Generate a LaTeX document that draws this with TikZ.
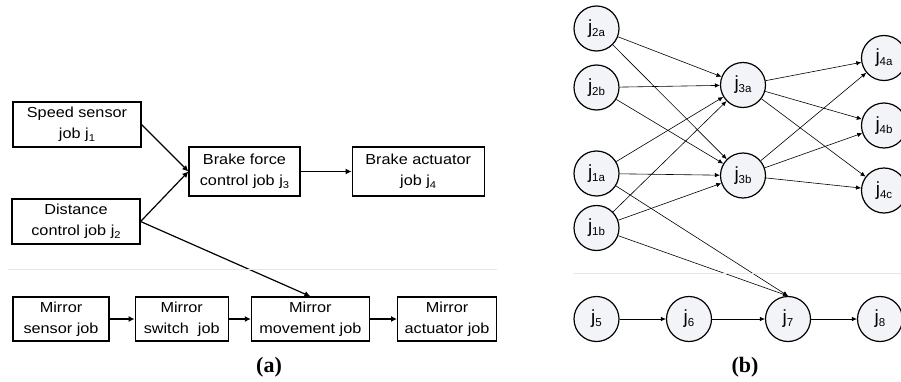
\documentclass[tikz,border=0pt]{standalone}
\usepackage{fontspec}
\usepackage{tikz}
\usetikzlibrary{arrows.meta, positioning, calc}

\newfontfamily\boxfont[FakeStretch=1.12]{Liberation Sans}
\newfontfamily\circfont{Liberation Sans}
\newfontfamily\capfont{Liberation Serif}
\definecolor{nodefill}{HTML}{F2F4F8}
\newcommand{\jsub}[1]{\raisebox{-2.5pt}{\fontsize{10}{10}\selectfont #1}}
\newcommand{\jlab}[1]{{\fontsize{19}{19}\selectfont j}\raisebox{-3pt}{\fontsize{11.5}{11.5}\selectfont #1}}

\begin{document}
\begin{tikzpicture}[
  x=1pt, y=1pt,
  job/.style   = {draw, line width=1.2pt, align=center, inner sep=0pt, minimum height=45pt,
                  font=\boxfont\fontsize{14.5}{21}\selectfont},
  circ/.style  = {draw, circle, line width=1.2pt, minimum size=45pt, inner sep=0pt,
                  fill=nodefill, font=\circfont},
  arrow/.style = {line width=1.2pt, -{Latex[length=6pt, width=6pt]}},
  thinarrow/.style = {line width=0.6pt, -{Latex[length=5pt, width=4.5pt]}},
  divider/.style = {draw=black!10, line width=0.8pt},
  node distance=25pt
]
  \useasboundingbox (0,0) rectangle (901,381);

  % (a) brake jobs
  \node[job, minimum width=128pt] (speed) at (77,256.5) {Speed sensor\\job j\jsub{1}};
  \node[job, minimum width=128pt] (dist) at (76,159.5) {Distance\\control job j\jsub{2}};
  \node[job, minimum width=111pt, minimum height=49pt] (bforce) at (244.5,209.5) {Brake force\\control job j\jsub{3}};
  \node[job, minimum width=132pt, minimum height=49pt, right=51pt of bforce] (bact) {Brake actuator\\job j\jsub{4}};

  % (a) mirror jobs
  \node[job, minimum width=96pt, minimum height=44pt] (msens) at (61,62) {Mirror\\sensor job};
  \node[job, minimum width=93pt, minimum height=44pt, right=25pt of msens] (mswitch) {Mirror\\switch~ job};
  \node[job, minimum width=118pt, minimum height=44pt, right=22pt of mswitch] (mmove) {Mirror\\movement job};
  \node[job, minimum width=99pt, minimum height=44pt, right=27pt of mmove] (mact) {Mirror\\actuator job};

  \draw[arrow] (speed.east) -- (bforce.west);
  \draw[arrow] (dist.east) -- (bforce.west);
  \draw[arrow] (bforce) -- (bact);
  \draw[arrow] (dist.east) -- (mmove.north);
  \draw[arrow] (msens) -- (mswitch);
  \draw[arrow] (mswitch) -- (mmove);
  \draw[arrow] (mmove) -- (mact);

  \draw[divider] (8,112) -- (497,112);
  \node[font=\capfont\bfseries\fontsize{22}{22}\selectfont] (capa) at (269,14) {(a)};

  % (b) job graph
  \node[circ] (j2a) at (596.5,352.5) {\jlab{2a}};
  \node[circ] (j2b) at (596.5,293.5) {\jlab{2b}};
  \node[circ] (j1a) at (596.5,207.5) {\jlab{1a}};
  \node[circ] (j1b) at (596.5,153) {\jlab{1b}};
  \node[circ] (j3a) at (743,296) {\jlab{3a}};
  \node[circ] (j3b) at (743,205.5) {\jlab{3b}};
  \node[circ] (j4a) at (884,323) {\jlab{4a}};
  \node[circ] (j4b) at (884,255.5) {\jlab{4b}};
  \node[circ] (j4c) at (884,190.5) {\jlab{4c}};

  \node[circ] (j5) at (596.5,62) {\jlab{5}};
  \node[circ] (j6) at (689,62) {\jlab{6}};
  \node[circ] (j7) at (788,62) {\jlab{7}};
  \node[circ] (j8) at (880,62) {\jlab{8}};

  \foreach \src in {j2a,j2b,j1a,j1b}
    \foreach \dst in {j3a,j3b}
      \draw[thinarrow] (\src) -- (\dst);
  \foreach \src in {j3a,j3b}
    \foreach \dst in {j4a,j4b,j4c}
      \draw[thinarrow] (\src) -- (\dst);
  \draw[thinarrow] (j1a) -- (j7.north);
  \draw[thinarrow] (j1b) -- (j7.north);
  \draw[thinarrow] (j5) -- (j6);
  \draw[thinarrow] (j6) -- (j7);
  \draw[thinarrow] (j7) -- (j8);

  \draw[divider] (574,108) -- (901,108);
  \node[font=\capfont\bfseries\fontsize{22}{22}\selectfont] (capb) at (745,14) {(b)};
\end{tikzpicture}
\end{document}
